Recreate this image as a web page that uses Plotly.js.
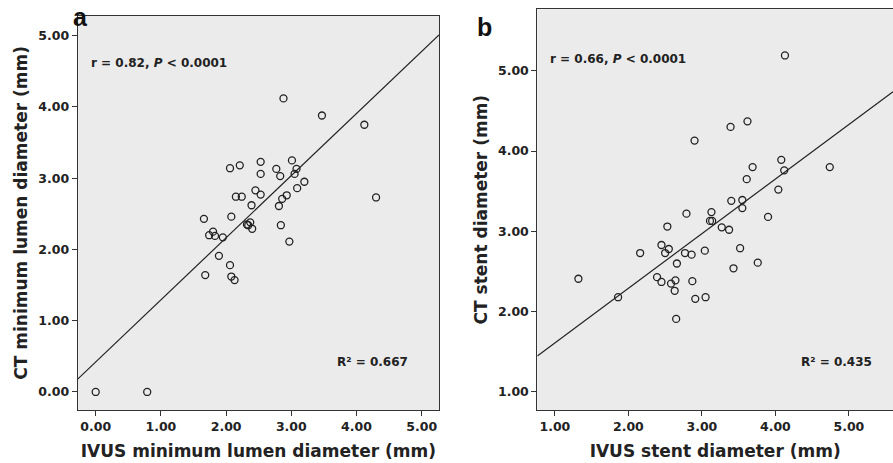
<!DOCTYPE html>
<html><head><meta charset="utf-8">
<script src="https://cdn.plot.ly/plotly-3.0.1.min.js"></script>
<style>html,body{margin:0;padding:0;background:#fff;overflow:hidden}</style>
</head><body>
<div id="chart" style="width:893px;height:463px"></div>
<script>
// Panel a: IVUS vs CT minimum lumen diameter (mm)
const aIVUS = [0.00,0.79,2.88,3.47,4.12,4.30,3.01,3.08,3.05,3.20,3.09,2.77,2.83,2.53,2.53,2.21,2.06,2.45,2.53,2.93,2.86,2.81,2.39,2.15,2.24,2.08,1.66,2.84,2.97,2.32,2.37,2.34,2.40,1.80,1.74,1.83,1.95,1.89,2.06,1.68,2.08,2.13];
const aCT   = [0.00,0.00,4.12,3.88,3.75,2.73,3.25,3.13,3.06,2.95,2.86,3.13,3.03,3.23,3.06,3.18,3.14,2.83,2.77,2.76,2.71,2.61,2.62,2.74,2.74,2.46,2.43,2.34,2.11,2.35,2.38,2.34,2.29,2.25,2.20,2.19,2.17,1.91,1.78,1.64,1.62,1.57];
// Panel b: IVUS vs CT stent diameter (mm)
const bIVUS = [4.13,3.62,3.39,2.90,4.08,4.74,3.69,4.12,3.61,4.04,3.40,3.55,3.55,3.90,2.79,3.13,3.11,3.14,3.27,3.37,2.53,2.45,2.55,2.50,2.16,2.77,2.86,3.04,3.52,2.66,3.76,3.43,1.32,2.39,2.45,2.58,2.64,2.87,2.63,1.86,2.91,3.05,2.65];
const bCT   = [5.19,4.37,4.30,4.13,3.89,3.80,3.80,3.76,3.65,3.52,3.38,3.39,3.29,3.18,3.22,3.24,3.13,3.13,3.05,3.02,3.06,2.83,2.78,2.73,2.73,2.73,2.71,2.76,2.79,2.60,2.61,2.54,2.41,2.43,2.37,2.35,2.39,2.38,2.26,2.18,2.16,2.18,1.91];
// Fitted regression lines [intercept, slope]
const fitA = [0.42, 0.872];
const fitB = [0.931, 0.680];
// Statistics labels
const statA = ['r = 0.82, <i>P</i> &lt; 0.0001', 'R² = 0.667'];
const statB = ['r = 0.66, <i>P</i> &lt; 0.0001', 'R² = 0.435'];
// Tick values / labels
const tickValsA = [0,1,2,3,4,5];
const tickValsB = [1,2,3,4,5];
const fmt = v => v.toFixed(2);

const rangeAX = [-0.276, 5.265], rangeAY = [-0.253, 5.28];
const rangeBX = [0.761, 5.60], rangeBY = [0.776, 5.765];

const FONT = 'DejaVu Sans, Verdana, sans-serif';
const INK = '#222';

function lineTrace(fit, rng, xa, ya){
  return {x: rng, y: rng.map(v => fit[0] + fit[1]*v), xaxis: xa, yaxis: ya,
    mode: 'lines', line: {color: INK, width: 1.2}, hoverinfo: 'skip', showlegend: false};
}
function pts(x, y, xa, ya){
  return {x: x, y: y, xaxis: xa, yaxis: ya, mode: 'markers', showlegend: false,
    marker: {symbol: 'circle-open', size: 7, color: INK, line: {width: 1.3, color: INK}}};
}
function axis(domain, range, tv, title, anchor, standoff){
  return {domain: domain, range: range, tickvals: tv, ticktext: tv.map(fmt),
    showgrid: false, zeroline: false, showline: true, linecolor: '#333', linewidth: 1, mirror: true,
    ticks: 'outside', ticklen: 5, tickcolor: '#333', tickwidth: 1,
    tickfont: {family: FONT, size: 12.5, weight: 'bold', color: INK},
    title: {text: title, font: {family: FONT, size: 17, weight: 'bold', color: INK}, standoff: standoff},
    anchor: anchor, fixedrange: true, automargin: false};
}

const data = [
  lineTrace(fitA, rangeAX, 'x', 'y'),
  pts(aIVUS, aCT, 'x', 'y'),
  lineTrace(fitB, rangeBX, 'x2', 'y2'),
  pts(bIVUS, bCT, 'x2', 'y2')
];

const annFont = {family: FONT, size: 12, weight: 'bold', color: INK};
const layout = {
  width: 893, height: 463,
  margin: {l: 0, r: 0, t: 0, b: 0},
  paper_bgcolor: '#ffffff', plot_bgcolor: '#ebebeb',
  showlegend: false,
  xaxis: axis([0.087, 0.4916], rangeAX, tickValsA, 'IVUS minimum lumen diameter (mm)', 'y', 12),
  yaxis: axis([0.1145, 0.966], rangeAY, tickValsA, 'CT minimum lumen diameter (mm)', 'x', 6),
  xaxis2: axis([0.6017, 1.0], rangeBX, tickValsB, 'IVUS stent diameter (mm)', 'y2', 12),
  yaxis2: axis([0.1145, 0.980], rangeBY, tickValsB, 'CT stent diameter (mm)', 'x2', 6),
  annotations: [
    {text: statA[0], xref: 'paper', yref: 'paper', x: 0.0997, y: 0.864, xanchor: 'left', yanchor: 'middle', showarrow: false, font: annFont},
    {text: statA[1], xref: 'paper', yref: 'paper', x: 0.375, y: 0.218, xanchor: 'left', yanchor: 'middle', showarrow: false, font: annFont},
    {text: statB[0], xref: 'paper', yref: 'paper', x: 0.6133, y: 0.8726, xanchor: 'left', yanchor: 'middle', showarrow: false, font: annFont},
    {text: statB[1], xref: 'paper', yref: 'paper', x: 0.8947, y: 0.218, xanchor: 'left', yanchor: 'middle', showarrow: false, font: annFont},
    {text: 'a', xref: 'paper', yref: 'paper', x: 0.0795, y: 0.963, xanchor: 'left', yanchor: 'middle', showarrow: false,
      font: {family: 'Liberation Sans, Arial, sans-serif', size: 25, weight: 'bold', color: '#111'}},
    {text: 'b', xref: 'paper', yref: 'paper', x: 0.532, y: 0.941, xanchor: 'left', yanchor: 'middle', showarrow: false,
      font: {family: 'Liberation Sans, Arial, sans-serif', size: 25, weight: 'bold', color: '#111'}}
  ]
};
Plotly.newPlot('chart', data, layout, {staticPlot: true, displayModeBar: false});
</script>
</body></html>
